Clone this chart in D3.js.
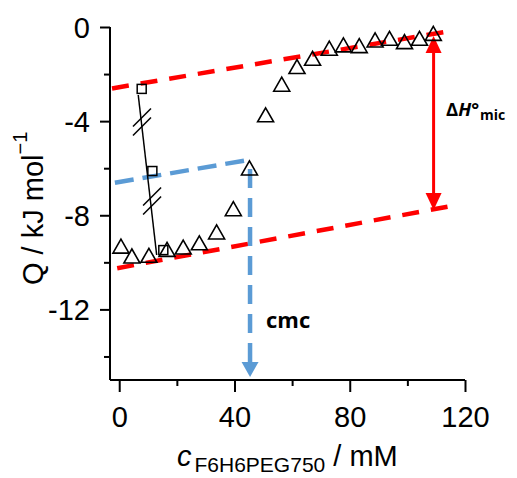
<!DOCTYPE html>
<html><head><meta charset="utf-8">
<script src="https://cdn.jsdelivr.net/npm/d3@7"></script>
<style>body{margin:0;background:#fff}svg{display:block}</style>
</head><body><svg id="c" width="517" height="478"></svg>
<script>
// ---- data ----
const triX = [0.6, 4.4, 10.3, 16.6, 22.2, 27.8, 33.8, 39.6, 45.2, 50.8, 56.4, 61.7, 67.1, 72.9, 77.8, 83.3, 88.8, 93.8, 99.0, 104.2, 109.0];
const triY = [-9.31, -9.73, -9.70, -9.45, -9.35, -9.17, -8.71, -7.72, -5.99, -3.73, -2.43, -1.68, -1.33, -0.90, -0.76, -0.79, -0.55, -0.48, -0.62, -0.48, -0.27];
const sqX = [7.8, 11.5, 15.3];
const sqY = [-2.63, -6.12, -9.48];
const guideX = [6.6, 13.0];
const guideY = [-2.89, -9.69];
const breakX = [7.9, 11.4];
const breakY = [-4.04, -7.39];
const upperFitX = [-2.5, 115.4], upperFitY = [-2.61, -0.16];
const lowerFitX = [-0.7, 117.2], lowerFitY = [-10.25, -7.56];
const blueFitX = [-1.5, 44.8], blueFitY = [-6.62, -5.65];
const cmcX = 45.4, cmcTopY = -5.99, cmcTipY = -14.87;
const dHX = 109.1, dHTopY = -0.38, dHBotY = -7.78;
const xTicks = [0, 20, 40, 60, 80, 100, 120];
const xTickLabels = ["0", "", "40", "", "80", "", "120"];
const yTicks = [0, -2, -4, -6, -8, -10, -12, -14];
const yTickLabels = ["0", "", "-4", "", "-8", "", "-12", ""];

const svg = d3.select("#c");
const x = d3.scaleLinear().domain([-3.2, 120]).range([110, 465]);
const y = d3.scaleLinear().domain([-15, 0]).range([380, 27]);
const RED = "#ff0000", BLUE = "#5b9bd5";
const FONT = "'Liberation Sans', Arial, sans-serif";

// axes
const xAxis = d3.axisBottom(x).tickValues(xTicks).tickFormat((d, i) => xTickLabels[i]).tickSizeOuter(0);
const gx = svg.append("g").attr("transform", `translate(0,${y(-15)})`).call(xAxis);
gx.select(".domain").attr("stroke", "#000").attr("stroke-width", 2).attr("d", `M${x(-3.2)},0H${x(120)}`);
gx.selectAll(".tick line").attr("stroke", "#000").attr("stroke-width", 2).attr("y2", (d, i) => xTickLabels[i] ? 12 : 6);
gx.selectAll(".tick text").attr("font-family", FONT).attr("font-size", 29).attr("fill", "#000").attr("y", 47).attr("dy", 0);

const yAxis = d3.axisLeft(y).tickValues(yTicks).tickFormat((d, i) => yTickLabels[i]).tickSizeOuter(0);
const gy = svg.append("g").attr("transform", `translate(${x(-3.2)},0)`).call(yAxis);
gy.select(".domain").attr("stroke", "#000").attr("stroke-width", 2).attr("d", `M0,${y(0)}V${y(-15)}`);
gy.selectAll(".tick line").attr("stroke", "#000").attr("stroke-width", 2).attr("x2", (d, i) => yTickLabels[i] ? -10 : -6);
gy.selectAll(".tick text").attr("font-family", FONT).attr("font-size", 29).attr("fill", "#000").attr("x", -20).attr("dy", "0.36em");

// fit lines
const line = d3.line().x(d => x(d[0])).y(d => y(d[1]));
function seg(xs, ys) { return xs.map((v, i) => [v, ys[i]]); }
svg.append("path").attr("d", line(seg(upperFitX, upperFitY))).attr("stroke", RED).attr("stroke-width", 4.5).attr("stroke-dasharray", "17,12").attr("fill", "none");
svg.append("path").attr("d", line(seg(lowerFitX, lowerFitY))).attr("stroke", RED).attr("stroke-width", 4.5).attr("stroke-dasharray", "17,12").attr("fill", "none");
svg.append("path").attr("d", line(seg(blueFitX, blueFitY))).attr("stroke", BLUE).attr("stroke-width", 4.5).attr("stroke-dasharray", "19,9").attr("fill", "none");

// cmc arrow (blue dashed, down)
const headH = 15, headW = 17;
svg.append("line").attr("x1", x(cmcX)).attr("x2", x(cmcX)).attr("y1", y(cmcTopY) + 1).attr("y2", y(cmcTipY) - headH + 1)
  .attr("stroke", BLUE).attr("stroke-width", 4.5).attr("stroke-dasharray", "19,10");
svg.append("path").attr("d", `M${x(cmcX) - headW / 2},${y(cmcTipY) - headH}L${x(cmcX) + headW / 2},${y(cmcTipY) - headH}L${x(cmcX)},${y(cmcTipY)}Z`).attr("fill", BLUE);

// ΔH arrow (red, double-headed)
const rH = 17, rW = 16;
svg.append("line").attr("x1", x(dHX)).attr("x2", x(dHX)).attr("y1", y(dHTopY) + rH - 1).attr("y2", y(dHBotY) - rH + 1)
  .attr("stroke", RED).attr("stroke-width", 3);
svg.append("path").attr("d", `M${x(dHX)},${y(dHTopY)}L${x(dHX) + rW / 2},${y(dHTopY) + rH}L${x(dHX) - rW / 2},${y(dHTopY) + rH}Z`).attr("fill", RED);
svg.append("path").attr("d", `M${x(dHX)},${y(dHBotY)}L${x(dHX) + rW / 2},${y(dHBotY) - rH}L${x(dHX) - rW / 2},${y(dHBotY) - rH}Z`).attr("fill", RED);

// guide line through squares with break marks
svg.append("path").attr("d", line(seg(guideX, guideY))).attr("stroke", "#000").attr("stroke-width", 1.5).attr("fill", "none");
breakX.forEach((bx, i) => {
  const cx = x(bx), cy = y(breakY[i]);
  [-4.5, 4.5].forEach(off => {
    svg.append("line").attr("x1", cx - 9).attr("y1", cy + off + 9).attr("x2", cx + 9).attr("y2", cy + off - 9)
      .attr("stroke", "#000").attr("stroke-width", 1.5);
  });
});

// squares
svg.selectAll("rect.sq").data(sqX.map((v, i) => [v, sqY[i]])).join("rect").attr("class", "sq")
  .attr("x", d => x(d[0]) - 4.5).attr("y", d => y(d[1]) - 4.5).attr("width", 9).attr("height", 9)
  .attr("fill", "none").attr("stroke", "#000").attr("stroke-width", 1.5);

// triangles
svg.selectAll("path.tri").data(triX.map((v, i) => [v, triY[i]])).join("path").attr("class", "tri")
  .attr("d", d => { const cx = x(d[0]), cy = y(d[1]); return `M${cx},${cy - 7}L${cx + 8},${cy + 7}L${cx - 8},${cy + 7}Z`; })
  .attr("fill", "none").attr("stroke", "#000").attr("stroke-width", 1.6).attr("stroke-linejoin", "miter");

// annotations
svg.append("text").attr("x", 266).attr("y", 328).attr("font-family", "'Open Sans', sans-serif").attr("font-weight", "bold").attr("font-size", 22).attr("fill", "#000").text("cmc");
const dh = svg.append("text").attr("x", 446).attr("y", 116).attr("font-family", "'Open Sans', sans-serif").attr("font-weight", "bold").attr("font-size", 18.5).attr("fill", "#000");
dh.append("tspan").text("Δ");
dh.append("tspan").attr("font-style", "italic").text("H");
dh.append("tspan").text("°");
dh.append("tspan").attr("font-size", 14).attr("dy", 4).attr("dx", 1).text("mic");

// axis titles
const xt = svg.append("text").attr("x", 177).attr("y", 466).attr("font-family", FONT).attr("font-size", 29).attr("fill", "#000");
xt.append("tspan").attr("font-style", "italic").text("c");
xt.append("tspan").attr("font-size", 21).attr("dy", 6).attr("dx", 3).text("F6H6PEG750");
xt.append("tspan").attr("dy", -6).text(" / mM");

const yt = svg.append("text").attr("transform", "translate(43,285) rotate(-90)").attr("font-family", FONT).attr("font-size", 29).attr("fill", "#000");
yt.append("tspan").text("Q / kJ mol");
yt.append("tspan").attr("font-size", 20).attr("dy", -16).text("−1");
</script></body></html>
